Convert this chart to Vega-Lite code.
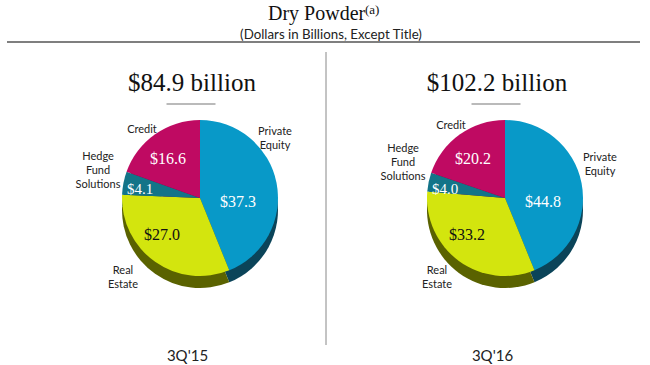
{"$schema":"https://vega.github.io/schema/vega-lite/v6.json","width":650,"height":365,"padding":0,"autosize":"none","background":"white","config":{"view":{"stroke":null},"axisY":{"disable":true}},"datasets":{"slices":[{"period":"3Q'15","segment":"Private Equity","value":37.3},{"period":"3Q'15","segment":"Real Estate","value":27.0},{"period":"3Q'15","segment":"Hedge Fund Solutions","value":4.1},{"period":"3Q'15","segment":"Credit","value":16.6},{"period":"3Q'16","segment":"Private Equity","value":44.8},{"period":"3Q'16","segment":"Real Estate","value":33.2},{"period":"3Q'16","segment":"Hedge Fund Solutions","value":4.0},{"period":"3Q'16","segment":"Credit","value":20.2}],"totals":[{"period":"3Q'15","label":"$84.9 billion"},{"period":"3Q'16","label":"$102.2 billion"}]},"data":{"name":"slices"},"transform":[{"stack":"value","groupby":["period"],"offset":"normalize","as":["v0","v1"]}],"encoding":{"x":{"field":"period","type":"nominal","scale":{"type":"point","padding":0,"domain":["3Q'15","3Q'16"],"range":[200,505]},"axis":{"title":null,"orient":"bottom","offset":-20,"domain":false,"ticks":false,"labelAngle":0,"labelFont":"Lato","labelFontSize":15,"labelColor":"#222222","labelOffset":-13,"labelPadding":3}}},"layer":[{"mark":{"type":"arc","outerRadius":78,"yOffset":12},"encoding":{"y":{"datum":198,"scale":{"domain":[0,365],"range":[0,365],"nice":false}},"theta":{"field":"v0","type":"quantitative","scale":{"domain":[0,1],"range":[0,6.28319]}},"theta2":{"field":"v1"},"color":{"field":"segment","type":"nominal","legend":null,"scale":{"domain":["Private Equity","Real Estate","Hedge Fund Solutions","Credit"],"range":["#0B4459","#5A6200","#0B4459","#6B0A3A"]}}}},{"mark":{"type":"arc","outerRadius":78},"encoding":{"y":{"datum":198,"scale":{"domain":[0,365],"range":[0,365],"nice":false}},"theta":{"field":"v0","type":"quantitative","scale":{"domain":[0,1],"range":[0,6.28319]}},"theta2":{"field":"v1"},"color":{"field":"segment","type":"nominal","legend":null,"scale":{"domain":["Private Equity","Real Estate","Hedge Fund Solutions","Credit"],"range":["#0899C8","#D3E50E","#137488","#BF0A62"]}}}},{"transform":[{"filter":"datum.segment=='Private Equity'"}],"mark":{"type":"text","font":"Liberation Serif","fontSize":16,"color":"white","dx":38,"dy":4},"encoding":{"y":{"datum":198},"text":{"field":"value","type":"quantitative","format":"$.1f"}}},{"transform":[{"filter":"datum.segment=='Real Estate'"}],"mark":{"type":"text","font":"Liberation Serif","fontSize":16,"color":"#111111","dx":-38,"dy":37},"encoding":{"y":{"datum":198},"text":{"field":"value","type":"quantitative","format":"$.1f"}}},{"transform":[{"filter":"datum.segment=='Hedge Fund Solutions'"}],"mark":{"type":"text","font":"Liberation Serif","fontSize":15,"color":"white","dx":-60,"dy":-9},"encoding":{"y":{"datum":198},"text":{"field":"value","type":"quantitative","format":"$.1f"}}},{"transform":[{"filter":"datum.segment=='Credit'"}],"mark":{"type":"text","font":"Liberation Serif","fontSize":16,"color":"white","dx":-32,"dy":-39},"encoding":{"y":{"datum":198},"text":{"field":"value","type":"quantitative","format":"$.1f"}}},{"transform":[{"filter":"datum.segment=='Private Equity' && datum.period==\"3Q'15\""}],"mark":{"type":"text","font":"Lato","fontSize":11,"color":"#222222","lineBreak":" ","lineHeight":14,"dx":75,"dy":-66},"encoding":{"y":{"datum":198},"text":{"field":"segment"}}},{"transform":[{"filter":"datum.segment=='Private Equity' && datum.period==\"3Q'16\""}],"mark":{"type":"text","font":"Lato","fontSize":11,"color":"#222222","lineBreak":" ","lineHeight":14,"dx":95,"dy":-40},"encoding":{"y":{"datum":198},"text":{"field":"segment"}}},{"transform":[{"filter":"datum.segment=='Real Estate' && datum.period==\"3Q'15\""}],"mark":{"type":"text","font":"Lato","fontSize":11,"color":"#222222","lineBreak":" ","lineHeight":14,"dx":-77,"dy":73},"encoding":{"y":{"datum":198},"text":{"field":"segment"}}},{"transform":[{"filter":"datum.segment=='Real Estate' && datum.period==\"3Q'16\""}],"mark":{"type":"text","font":"Lato","fontSize":11,"color":"#222222","lineBreak":" ","lineHeight":14,"dx":-68,"dy":73},"encoding":{"y":{"datum":198},"text":{"field":"segment"}}},{"transform":[{"filter":"datum.segment=='Hedge Fund Solutions' && datum.period==\"3Q'15\""}],"mark":{"type":"text","font":"Lato","fontSize":11,"color":"#222222","lineBreak":" ","lineHeight":14,"dx":-102,"dy":-41},"encoding":{"y":{"datum":198},"text":{"field":"segment"}}},{"transform":[{"filter":"datum.segment=='Hedge Fund Solutions' && datum.period==\"3Q'16\""}],"mark":{"type":"text","font":"Lato","fontSize":11,"color":"#222222","lineBreak":" ","lineHeight":14,"dx":-102,"dy":-49},"encoding":{"y":{"datum":198},"text":{"field":"segment"}}},{"transform":[{"filter":"datum.segment=='Credit' && datum.period==\"3Q'15\""}],"mark":{"type":"text","font":"Lato","fontSize":11,"color":"#222222","dx":-58,"dy":-68},"encoding":{"y":{"datum":198},"text":{"field":"segment"}}},{"transform":[{"filter":"datum.segment=='Credit' && datum.period==\"3Q'16\""}],"mark":{"type":"text","font":"Lato","fontSize":11,"color":"#222222","dx":-54,"dy":-72},"encoding":{"y":{"datum":198},"text":{"field":"segment"}}},{"data":{"name":"totals"},"mark":{"type":"text","font":"Liberation Serif","fontSize":25,"color":"#111111","dx":-8},"encoding":{"y":{"datum":83},"text":{"field":"label"}}},{"data":{"name":"totals"},"mark":{"type":"tick","orient":"horizontal","size":49,"thickness":1,"color":"#777777","xOffset":-9,"opacity":1},"encoding":{"y":{"datum":104}}},{"data":{"values":[{"t":"Dry Powder"}]},"mark":{"type":"text","font":"Liberation Serif","fontSize":20,"color":"#111111","align":"left"},"encoding":{"x":{"value":268},"y":{"datum":14},"text":{"field":"t"}}},{"data":{"values":[{"t":"(a)"}]},"mark":{"type":"text","font":"Liberation Serif","fontSize":13,"color":"#111111","align":"left"},"encoding":{"x":{"value":365},"y":{"datum":10},"text":{"field":"t"}}},{"data":{"values":[{"t":"(Dollars in Billions, Except Title)"}]},"mark":{"type":"text","font":"Lato","fontSize":13.3,"color":"#222222"},"encoding":{"x":{"value":331},"y":{"datum":35},"text":{"field":"t"}}},{"data":{"values":[{"a":1}]},"mark":{"type":"rule","color":"#555555","strokeWidth":1.5},"encoding":{"x":{"value":7},"x2":{"value":640},"y":{"datum":42}}},{"data":{"values":[{"a":1}]},"mark":{"type":"rule","color":"#888888","strokeWidth":1},"encoding":{"x":{"value":326},"y":{"datum":52},"y2":{"datum":345}}}],"resolve":{"scale":{"color":"independent"}}}
